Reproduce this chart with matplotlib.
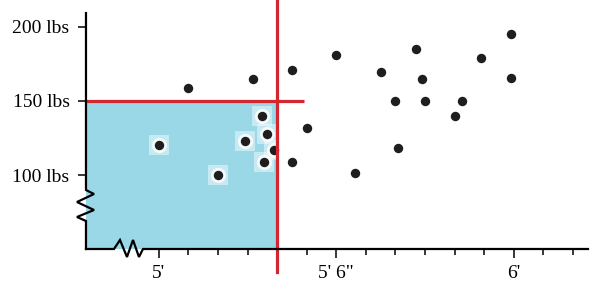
import numpy as np
import matplotlib
matplotlib.use("Agg")
import matplotlib.pyplot as plt
from matplotlib.lines import Line2D
from matplotlib.patches import Rectangle

plt.rcParams['font.family'] = ['Liberation Serif', 'DejaVu Serif']

# height (inches) and weight (lbs)
height = [61.0, 63.2, 64.5, 63.5, 65.0, 63.65, 62.9, 60.0, 63.9, 63.55, 64.5, 62.0,
          66.0, 68.7, 67.5, 68.9, 70.9, 71.9, 71.9, 68.0, 69.0, 70.25, 70.0, 68.1, 66.65]
weight = [159, 165, 171, 140, 131.5, 128, 123, 120, 117, 109, 109, 100,
          181, 185, 169.5, 165, 179, 195.5, 165.5, 150, 150, 150, 139.7, 118, 101.7]

major_ticks = [60, 66, 72]
major_labels = ["5'", "5' 6\"", "6'"]
minor_ticks = list(range(61, 75))
y_ticks = [100, 150, 200]
y_labels = ["100 lbs", "150 lbs", "200 lbs"]

cut_height = 64      # vertical red line
cut_weight = 150     # horizontal red line
hline_end = 64.9

xlim = (57.54, 74.51)
ylim = (50.2, 209.3)

red = '#d4262f'
blue = '#9ad7e7'

fig = plt.figure(figsize=(6.03, 2.90), dpi=100)
ax = fig.add_axes([0.1426, 0.1414, 0.8325, 0.8136])
ax.set_xlim(xlim)
ax.set_ylim(ylim)

for s in ax.spines.values():
    s.set_visible(False)

# shaded region
ax.add_patch(Rectangle((xlim[0], ylim[0]), cut_height - xlim[0], cut_weight - ylim[0],
                       facecolor=blue, edgecolor='none', zorder=1))

# white halos around points in the shaded region
h = np.array(height)
w = np.array(weight)
inside = (h < cut_height + 0.3) & (w < cut_weight)
ax.scatter(h[inside], w[inside], s=190, marker='s', color='white', alpha=0.45, zorder=2, linewidths=0)
ax.scatter(h[inside], w[inside], s=120, color='white', alpha=0.8, zorder=2, linewidths=0)

ax.scatter(height, weight, s=46, color='#1e1e1e', zorder=4, linewidths=0)

# red lines
ax.axvline(cut_height, ymin=-0.097, ymax=1.06, color=red, lw=2.3, clip_on=False, zorder=5)
ax.plot([xlim[0], hline_end], [cut_weight, cut_weight], color=red, lw=2.3, zorder=5,
        clip_on=False, solid_capstyle='butt')

# axes with break marks
def px(x, y):
    return ((x - 86) / 502, (249 - y) / 236)

left_pts = [px(86, 13), px(86, 190), px(94, 194), px(77, 202), px(94, 210), px(77, 217), px(86, 221), px(86, 249)]
bottom_pts = [px(86, 249), px(114, 249), px(120, 240), px(127, 257), px(133, 240), px(139, 257), px(143, 249), px(588, 249)]
for pts in (left_pts, bottom_pts):
    xs, ys = zip(*pts)
    ax.add_line(Line2D(xs, ys, transform=ax.transAxes, color='black', lw=1.6,
                       clip_on=False, zorder=6, solid_joinstyle='miter'))

ax.set_xticks(major_ticks)
ax.set_xticklabels(major_labels)
ax.set_xticks(minor_ticks, minor=True)
ax.set_yticks(y_ticks)
ax.set_yticklabels(y_labels)
ax.tick_params(axis='x', which='major', direction='out', length=6.5, width=1.1, labelsize=14, pad=5)
ax.tick_params(axis='x', which='minor', direction='out', length=4.3, width=1.1)
ax.tick_params(axis='y', which='major', direction='out', length=5.8, width=1.1, labelsize=14, pad=6)

fig.savefig("out.png", dpi=100)
